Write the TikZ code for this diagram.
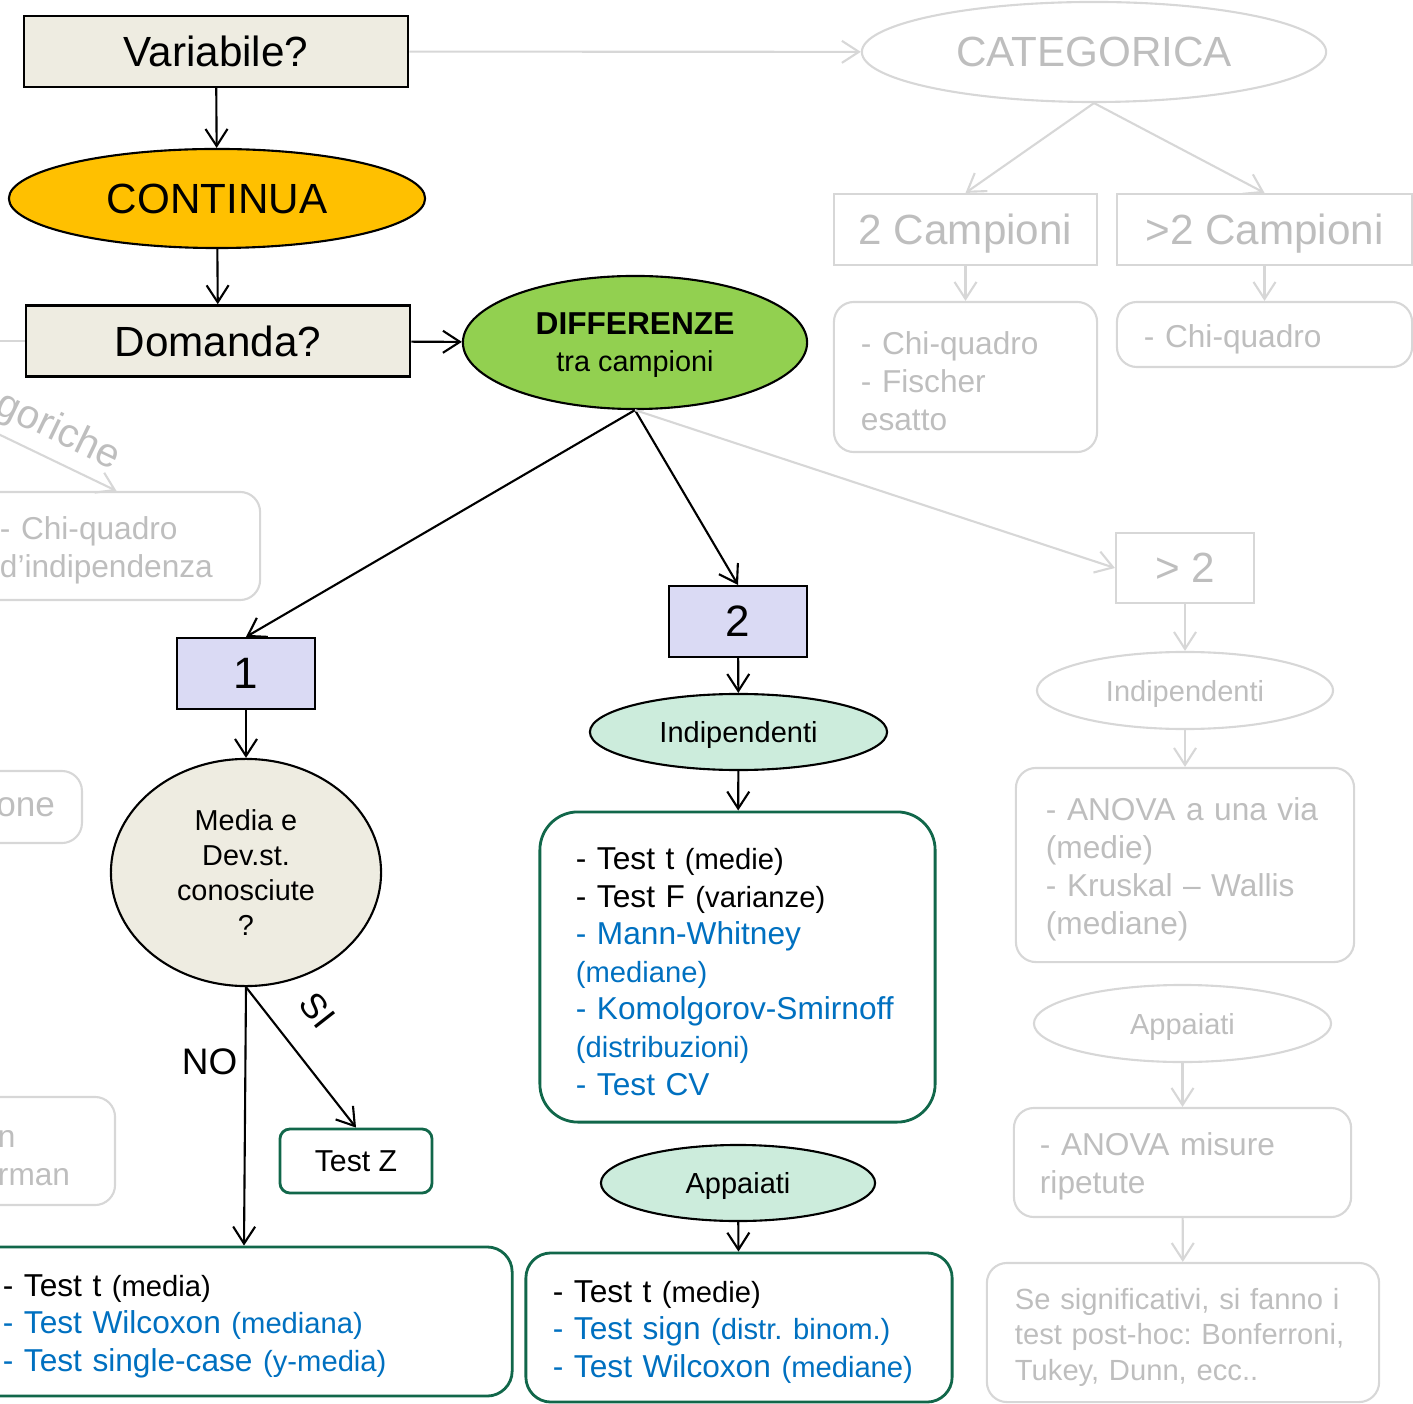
\documentclass[tikz,border=0pt]{standalone}
\usepackage{fontspec}
\setmainfont{Liberation Sans}
\usetikzlibrary{shapes.geometric,arrows.meta}

\definecolor{tan}{RGB}{238,236,225}
\definecolor{amber}{RGB}{255,192,0}
\definecolor{lime}{RGB}{146,208,80}
\definecolor{lavender}{RGB}{218,218,244}
\definecolor{mint}{RGB}{204,236,220}
\definecolor{tgreen}{RGB}{17,103,74}
\definecolor{tblue}{RGB}{0,112,192}
\definecolor{gtext}{RGB}{190,190,190}
\definecolor{gline}{RGB}{215,215,215}

\newcommand{\pnote}[1]{{\fontsize{8.3}{10.7}\selectfont #1}}
\frenchspacing

\begin{document}
\begin{tikzpicture}[
    x=0.01cm, y=-0.01cm,
    arr/.style={-{Straight Barb[length=1.7mm,width=2.2mm]}, line width=0.6pt},
    garr/.style={arr, draw=gline},
    pushdown/.style={execute at begin node={\rule{0pt}{#1}}},
    qbox/.style={draw, line width=0.7pt, fill=tan, minimum width=3.84cm, minimum height=0.71cm, inner sep=0pt, text depth=0pt, font=\fontsize{12}{14}\selectfont},
    oval/.style={ellipse, draw, line width=0.6pt, inner sep=0pt, text depth=0pt},
    numbox/.style={draw, line width=0.6pt, fill=lavender, minimum width=1.38cm, minimum height=0.71cm, inner sep=0pt, text depth=0pt, font=\fontsize{12.5}{14}\selectfont},
    tline/.style={draw=tgreen, line width=0.8pt, inner xsep=0.27cm, inner ysep=0pt},
    testbox/.style={tline, align=left, pushdown=8.8pt, font=\fontsize{9}{10.7}\selectfont},
    gbox/.style={draw=gline, line width=0.6pt, text=gtext, inner sep=0pt},
    gnote/.style={gbox, rounded corners=0.2cm, align=left, inner xsep=0.27cm, pushdown=8.8pt, font=\fontsize{9}{10.8}\selectfont}
    ]

    \useasboundingbox (0,0) rectangle (1413,1404);
    \clip (0,0) rectangle (1413,1404);

    % main path
    \node[qbox] (var) at (216,51.5) {Variabile?};
    \node[oval, fill=amber, minimum width=4.16cm, minimum height=0.99cm, font=\fontsize{12}{14}\selectfont] (cont) at (217,198.5) {CONTINUA};
    \node[qbox] (dom) at (218,341) {Domanda?};
    \node[oval, fill=lime, minimum width=3.44cm, minimum height=1.33cm, align=center, font=\fontsize{8.2}{10.5}\selectfont] (diff) at (635,342.5) {{\fontsize{9}{10.5}\selectfont\bfseries DIFFERENZE}\\tra campioni};

    \node[numbox] (one) at (246,673.5) {1};
    \node[numbox] (two) at (738,621.5) {2};
    \node[oval, fill=tan, minimum width=2.70cm, minimum height=2.27cm, align=center, font=\fontsize{8.2}{10}\selectfont] (media) at (246,872.5) {Media e\\Dev.st.\\conosciute\\?};
    \node[tline, rounded corners=0.1cm, text depth=0pt, minimum width=1.52cm, minimum height=0.64cm, font=\fontsize{8.6}{10}\selectfont] (testZ) at (356,1161) {Test Z};
    \node[testbox, rounded corners=0.25cm, text width=4.82cm, minimum height=1.49cm] (oneT) at (244,1321.5) {- Test t \pnote{(media)}\\
        {\color{tblue}- Test Wilcoxon \pnote{(mediana)}}\\
        {\color{tblue}- Test single-case \pnote{(y-media)}}};

    \node[oval, fill=mint, minimum width=2.97cm, minimum height=0.76cm, font=\fontsize{8.25}{10}\selectfont] (indL) at (738.5,732) {Indipendenti};
    \node[testbox, rounded corners=0.38cm, text width=3.23cm, inner xsep=0.36cm, minimum height=3.10cm] (indT) at (737.5,967) {- Test t \pnote{(medie)}\\
        - Test F \pnote{(varianze)}\\
        {\color{tblue}- Mann-Whitney}\\
        {\color{tblue}\pnote{(mediane)}}\\
        {\color{tblue}- Komolgorov-Smirnoff}\\
        {\color{tblue}\pnote{(distribuzioni)}}\\
        {\color{tblue}- Test CV}};
    \node[oval, fill=mint, minimum width=2.74cm, minimum height=0.76cm, font=\fontsize{8.25}{10}\selectfont] (appL) at (738,1183) {Appaiati};
    \node[testbox, rounded corners=0.25cm, text width=3.72cm, minimum height=1.49cm] (appT) at (739,1327.5) {- Test t \pnote{(medie)}\\
        {\color{tblue}- Test sign \pnote{(distr. binom.)}}\\
        {\color{tblue}- Test Wilcoxon \pnote{(mediane)}}};

    % grey part
    \node[gbox, ellipse, text depth=0pt, minimum width=4.64cm, minimum height=1.0cm, font=\fontsize{12}{14}\selectfont] (cat) at (1094,52) {CATEGORICA};
    \node[gbox, text depth=0pt, minimum width=2.63cm, minimum height=0.71cm, font=\fontsize{12}{14}\selectfont] (camp2) at (965.5,229.5) {2 Campioni};
    \node[gbox, text depth=0pt, minimum width=2.95cm, minimum height=0.71cm, font=\fontsize{12}{14}\selectfont] (camp3) at (1264.5,229.5) {>2 Campioni};
    \node[gnote, pushdown=0pt, text width=2.09cm, minimum height=1.5cm] (chiA) at (965.5,377) {- Chi-quadro\\- Fischer\\esatto};
    \node[gnote, pushdown=9.2pt, text width=2.41cm, minimum height=0.65cm] (chiB) at (1264.5,334.5) {- Chi-quadro};

    \node[gbox, text depth=0pt, minimum width=1.38cm, minimum height=0.70cm, font=\fontsize{12}{14}\selectfont] (gt2) at (1185,568) {> 2};
    \node[gbox, ellipse, text depth=0pt, minimum width=2.96cm, minimum height=0.77cm, font=\fontsize{8.25}{10}\selectfont] (indR) at (1185,690.5) {Indipendenti};
    \node[gnote, pushdown=8.2pt, text width=2.78cm, inner xsep=0.30cm, minimum height=1.94cm] (anovaA) at (1185,865) {- ANOVA a una via\\(medie)\\- Kruskal – Wallis\\(mediane)};
    \node[gbox, ellipse, text depth=0pt, minimum width=2.97cm, minimum height=0.77cm, font=\fontsize{8.25}{10}\selectfont] (appR) at (1182.5,1023.5) {Appaiati};
    \node[gnote, text width=2.85cm, inner xsep=0.26cm, minimum height=1.09cm] (anovaB) at (1182.5,1162.5) {- ANOVA misure\\ripetute};
    \node[gnote, text width=3.36cm, inner xsep=0.28cm, minimum height=1.39cm, font=\fontsize{8.3}{10}\selectfont] (posthoc) at (1183,1332.5) {Se significativi, si fanno i\\test post-hoc: Bonferroni,\\Tukey, Dunn, ecc..};

    \node[gnote, text width=2.33cm, minimum height=1.08cm] (chiC) at (116.5,546) {- Chi-quadro\\d’indipendenza};
    \node[gbox, rounded corners=0.2cm, inner xsep=0.27cm, text depth=0pt, anchor=east, minimum height=0.72cm, font=\fontsize{10}{12}\selectfont] (oneR) at (83,807) {one};
    \node[gnote, text width=0.90cm, minimum height=1.08cm] (rman) at (43,1151) {n\\rman};

    \coordinate (domin) at (-20,341);
    \coordinate (catin) at (-60,406);

    \draw[arr] (var) -- (cont);
    \draw[arr] (cont) -- (dom);
    \draw[arr] (dom) -- (diff);
    \draw[garr] (var) -- (cat);
    \draw[line width=0.6pt, gline] (domin) -- (dom);
    \draw[arr] (diff.south) -- (one.north);
    \draw[arr] (diff.south) -- (two.north);
    \draw[garr] (diff.south) -- (gt2.west);

    \draw[garr] (cat.south) -- (camp2.north);
    \draw[garr] (cat.south) -- (camp3.north);
    \draw[garr] (camp2) -- (chiA);
    \draw[garr] (camp3) -- (chiB);
    \draw[garr] (gt2) -- (indR);
    \draw[garr] (indR) -- (anovaA);
    \draw[garr] (appR) -- (anovaB);
    \draw[garr] (anovaB) -- (posthoc);
    \draw[garr] (catin) -- node[pos=0.6, sloped, above=0.08cm, inner sep=0pt, text=gtext, font=\fontsize{11.5}{13}\selectfont]{goriche} (chiC.north);

    \draw[arr] (one) -- (media);
    \draw[arr] (media.south) -- node[pos=0.35, sloped, above=0.17cm, font=\fontsize{10}{12}\selectfont]{SI} (testZ.north);
    \draw[arr] (media.south) -- node[pos=0.29, left=0pt, inner sep=2pt, font=\fontsize{10.5}{12}\selectfont]{NO} (oneT.north);
    \draw[arr] (two) -- (indL);
    \draw[arr] (indL) -- (indT);
    \draw[arr] (appL) -- (appT);

\end{tikzpicture}
\end{document}
